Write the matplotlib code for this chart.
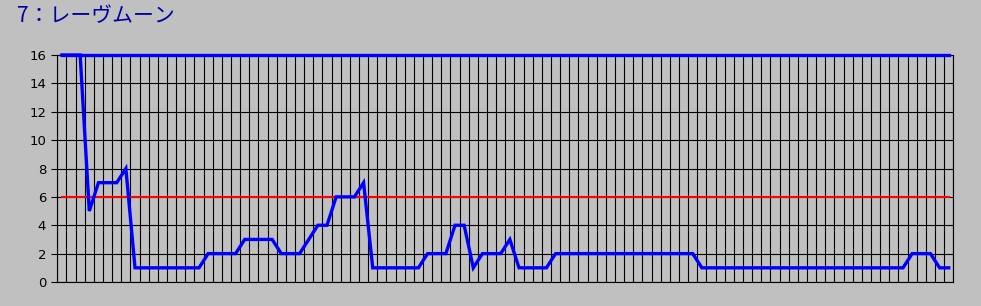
import numpy as np
import matplotlib
matplotlib.use("Agg")
import matplotlib.pyplot as plt

plt.rcParams['font.family'] = ['Noto Sans CJK JP', 'DejaVu Sans']

title = "7：レーヴムーン"
values = ([16, 16, 16, 5, 7, 7, 7, 8]
          + [1] * 8 + [2] * 4 + [3] * 4 + [2] * 3 + [3] + [4] * 2 + [6] * 3 + [7]
          + [1] * 6 + [2] * 3 + [4] * 2 + [1] + [2] * 3 + [3] + [1] * 4
          + [2] * 16 + [1] * 23 + [2] * 3 + [1] * 2)
upper_line = 16
threshold = 6
yticks = [0, 2, 4, 6, 8, 10, 12, 14, 16]

n = len(values)
x = np.arange(n)

bg = '#C0C0C0'
fig = plt.figure(figsize=(9.81, 3.06), dpi=100, facecolor=bg)
ax = fig.add_axes([57.3 / 981, 24 / 306, 896 / 981, 227 / 306], facecolor=bg)

ax.set_xlim(-0.5, n - 0.5)
ax.set_ylim(0, 16)
ax.set_xticks(np.arange(-0.5, n, 1.0))
ax.set_xticklabels([])
ax.tick_params(axis='x', length=0)
ax.set_yticks(yticks)
ax.set_yticklabels([str(v) for v in yticks], fontsize=9.5, family=['DejaVu Sans'])
ax.tick_params(axis='y', length=4, width=0.8, color='black', pad=4)
ax.grid(True, color='black', linewidth=0.8)
ax.set_axisbelow(True)
for s in ax.spines.values():
    s.set_color('black')
    s.set_linewidth(0.8)

ax.plot(x, [threshold] * n, color='#FF0000', linewidth=1.5, clip_on=False, zorder=3)
ax.plot(x, [upper_line] * n, color='#0000FF', linewidth=2.4, clip_on=False, zorder=4)
ax.plot(x, values, color='#0000FF', linewidth=2.4, clip_on=False, zorder=5,
        solid_joinstyle='miter')

fig.text(17 / 981, 1 - 16 / 306, title, color='#0000A0', fontsize=15,
         ha='left', va='center')

fig.savefig('out.png', dpi=100, facecolor=bg)
